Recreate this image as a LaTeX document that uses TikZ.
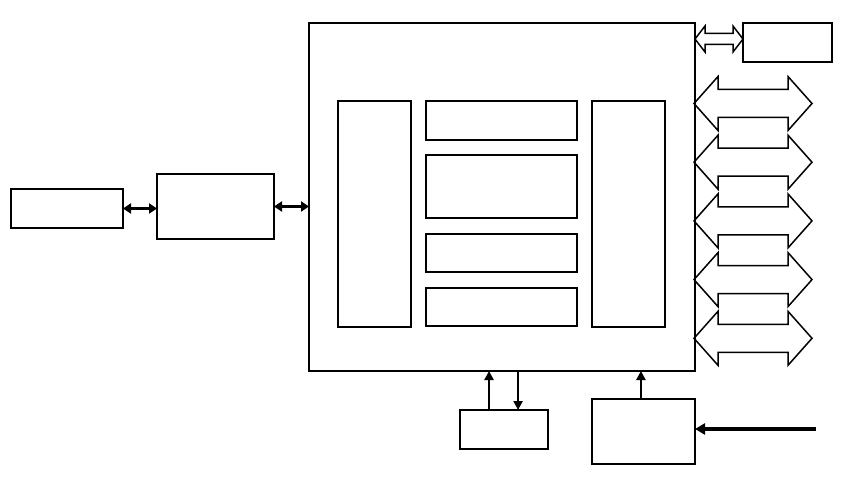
\documentclass[tikz,border=0pt]{standalone}
\usetikzlibrary{arrows.meta,calc}
\begin{document}
\begin{tikzpicture}[x=1pt,y=-1pt,
  box/.style={draw=black,line width=2pt,fill=white,inner sep=0pt,outer sep=0pt},
  dbl/.style={line width=3pt,{Triangle[length=8pt,width=10pt]}-{Triangle[length=8pt,width=10pt]}},
  arr/.style={line width=2.3pt,-{Triangle[length=9pt,width=9pt]}},
  thickarr/.style={line width=3.3pt,-{Triangle[length=10pt,width=11pt]}},
  blk/.style={draw=black,line width=1.5pt,line join=miter}]
\useasboundingbox (0,0) rectangle (849,478);
\newcommand{\bx}[5]{\node[box,minimum width={(#4)-(#2)},minimum height={(#5)-(#3)}] (#1) at ({((#2)+(#4))/2},{((#3)+(#5))/2}) {};}
\bx{main}{309}{23}{695}{371}
\bx{inA}{11}{189}{123}{228}
\bx{inB}{157}{174}{274}{239}
\bx{colL}{338}{101}{411}{327}
\bx{mA}{426}{101}{577}{140}
\bx{mB}{426}{155}{577}{218}
\bx{mC}{426}{234}{577}{272}
\bx{mD}{426}{288}{577}{326}
\bx{colR}{592}{101}{665}{327}
\bx{tr}{743}{23}{832}{62}
\bx{bl}{460}{410}{548}{449}
\bx{br}{592}{399}{695}{464}
% connectors
\draw[dbl] (inA.east) -- (inA.east -| inB.west);
\draw[dbl] (inB.east) -- (inB.east -| main.west);
\coordinate (blup) at ($(bl.north west)!0.33!(bl.north east)$);
\coordinate (bldn) at ($(bl.north west)!0.66!(bl.north east)$);
\draw[arr] (blup) -- (blup |- main.south);
\draw[arr] (bldn |- main.south) -- (bldn);
\coordinate (brup) at ($(br.north west)!0.475!(br.north east)$);
\draw[arr] (brup) -- (brup |- main.south);
\coordinate (src) at (816,429);
\draw[thickarr] (src) -- (src -| br.east);
% small block double arrow
\draw[blk] (695,39) -- (705,26) -- (705,33.5) -- (733,33.5) -- (733,26) -- (743,39)
  -- (733,52) -- (733,44.5) -- (705,44.5) -- (705,52) -- cycle;
% big block double arrows
\foreach \y in {103.5,162.2,220.9,279.6,338.3}{
  \draw[blk] (694,\y) -- (718,\y-27) -- (718,\y-14) -- (788,\y-14) -- (788,\y-27) -- (812,\y)
    -- (788,\y+27) -- (788,\y+14) -- (718,\y+14) -- (718,\y+27) -- cycle;
}
\end{tikzpicture}
\end{document}
